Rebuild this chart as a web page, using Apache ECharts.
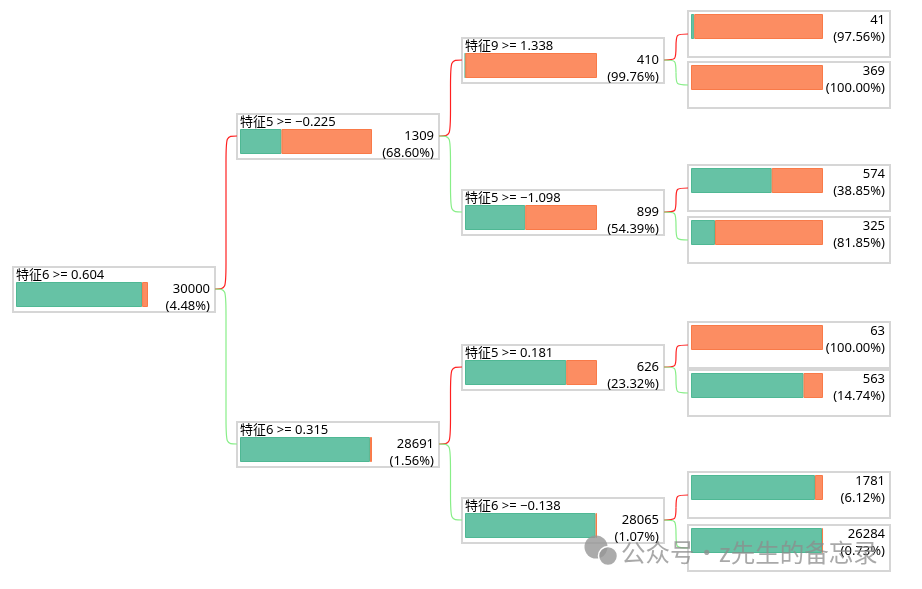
<!DOCTYPE html>
<html>
<head>
<meta charset="utf-8">
<script src="https://cdn.jsdelivr.net/npm/echarts@6/dist/echarts.min.js"></script>
<style>html,body{margin:0;padding:0;background:#fff}#c{width:922px;height:589px}</style>
</head>
<body>
<div id="c"></div>
<script>
// ---- data ----
const splitLabels = ['特征6 >= 0.604', '特征5 >= \u22120.225', '特征6 >= 0.315', '特征9 >= 1.338', '特征5 >= \u22121.098', '特征5 >= 0.181', '特征6 >= \u22120.138', '', '', '', '', '', '', '', ''];
const sampleCounts = [30000, 1309, 28691, 410, 899, 626, 28065, 41, 369, 574, 325, 63, 563, 1781, 26284];
const positiveRate = [4.48, 68.60, 1.56, 99.76, 54.39, 23.32, 1.07, 97.56, 100.00, 38.85, 81.85, 100.00, 14.74, 6.12, 0.73];
const parentOf = [-1, 0, 0, 1, 1, 2, 2, 3, 3, 4, 4, 5, 5, 6, 6];
const branchSide = [null, 'yes', 'no', 'yes', 'no', 'yes', 'no', 'yes', 'no', 'yes', 'no', 'yes', 'no', 'yes', 'no'];

// ---- layout (positions only) ----
const depthOf = [0, 1, 1, 2, 2, 2, 2, 3, 3, 3, 3, 3, 3, 3, 3];
const colX = [13, 237, 462, 688];
const boxTop = [267, 114, 422, 38, 190, 345, 498, 11, 62, 165, 217, 322, 370, 472, 525];
const BOX_W = 202, BOX_H_INNER = 45, BOX_H_LEAF = 46, BAR_W = 132, BAR_H = 25;
const GREEN = '#66c2a5', ORANGE = '#fc8d62';
const FONT = '"Segoe UI","Noto Sans","Noto Sans CJK SC",sans-serif';

const isLeaf = i => splitLabels[i] === '';
const boxH = i => isLeaf(i) ? BOX_H_LEAF : BOX_H_INNER;
const anchorY = i => boxTop[i] + (isLeaf(i) ? 23 : 22);

const grids = [], xAxes = [], yAxes = [], series = [], graphics = [];

// connectors: smooth bend out, vertical run, smooth bend in
for (let i = 0; i < sampleCounts.length; i++) {
  const p = parentOf[i];
  if (p < 0) continue;
  const x1 = colX[depthOf[p]] + BOX_W, y1 = anchorY(p);
  const x2 = colX[depthOf[i]], y2 = anchorY(i);
  const xm = (x1 + x2) / 2;
  const s = y2 < y1 ? -1 : 1;
  const r = Math.min(Math.abs(y2 - y1) / 2, 26);
  const st = { stroke: branchSide[i] === 'yes' ? '#ff2020' : '#88ee88', lineWidth: 1.2, fill: null };
  graphics.push({
    type: 'bezierCurve', z: 1, silent: true,
    shape: { x1: x1, y1: y1, cpx1: xm, cpy1: y1, cpx2: xm, cpy2: y1, x2: xm, y2: y1 + s * r },
    style: st
  });
  graphics.push({
    type: 'line', z: 1, silent: true,
    shape: { x1: xm, y1: y1 + s * r, x2: xm, y2: y2 - s * r },
    style: st
  });
  graphics.push({
    type: 'bezierCurve', z: 1, silent: true,
    shape: { x1: xm, y1: y2 - s * r, cpx1: xm, cpy1: y2, cpx2: xm, cpy2: y2, x2: x2, y2: y2 },
    style: st
  });
}

for (let i = 0; i < sampleCounts.length; i++) {
  const x = colX[depthOf[i]], top = boxTop[i], leaf = isLeaf(i);
  graphics.push({
    type: 'rect', z: 0, silent: true,
    shape: { x: x, y: top, width: BOX_W, height: boxH(i) },
    style: { fill: '#fff', stroke: '#d6d6d6', lineWidth: 2 }
  });
  const barTop = leaf ? top + 3 : top + 15;
  grids.push({ left: x + 3, top: barTop, width: BAR_W, height: BAR_H, containLabel: false });
  xAxes.push({ gridIndex: i, type: 'value', min: 0, max: 100, show: false });
  yAxes.push({ gridIndex: i, type: 'category', data: [''], show: false });
  series.push({
    type: 'bar', xAxisIndex: i, yAxisIndex: i, stack: 'n' + i, barWidth: '100%', silent: true,
    itemStyle: { color: GREEN, borderColor: '#4fb894', borderWidth: 100 - positiveRate[i] > 0 ? 1 : 0 },
    data: [+(100 - positiveRate[i]).toFixed(2)], z: 3
  });
  series.push({
    type: 'bar', xAxisIndex: i, yAxisIndex: i, stack: 'n' + i, barWidth: '100%', silent: true,
    itemStyle: { color: ORANGE, borderColor: '#f97a48', borderWidth: 1 },
    data: [positiveRate[i]], z: 3
  });
  if (!leaf) {
    graphics.push({
      type: 'text', z: 10, silent: true,
      style: { text: splitLabels[i], x: x + 3, y: top + 8, fill: '#000', font: '13px ' + FONT, textVerticalAlign: 'middle', textAlign: 'left' }
    });
  }
  const nY = leaf ? top + 9 : top + 22;
  graphics.push({
    type: 'text', z: 10, silent: true,
    style: { text: String(sampleCounts[i]), x: x + BOX_W - 5, y: nY, fill: '#000', font: '13px ' + FONT, textVerticalAlign: 'middle', textAlign: 'right' }
  });
  graphics.push({
    type: 'text', z: 10, silent: true,
    style: { text: '(' + positiveRate[i].toFixed(2) + '%)', x: x + BOX_W - 5, y: nY + 17, fill: '#000', font: '13px ' + FONT, textVerticalAlign: 'middle', textAlign: 'right' }
  });
}

// watermark
graphics.push({ type: 'circle', z: 20, silent: true, shape: { cx: 596, cy: 547, r: 11.5 }, style: { fill: 'rgba(150,150,150,0.8)' } });
graphics.push({ type: 'circle', z: 21, silent: true, shape: { cx: 608, cy: 556, r: 9.5 }, style: { fill: 'rgba(150,150,150,0.8)', stroke: '#fff', lineWidth: 1.5 } });
graphics.push({
  type: 'text', z: 20, silent: true,
  style: { text: '公众号・z先生的备忘录', x: 621, y: 553, fill: 'rgba(140,140,140,0.75)', font: '24.5px "Noto Sans CJK SC",sans-serif', textVerticalAlign: 'middle', textAlign: 'left' }
});

const chart = echarts.init(document.getElementById('c'), null, { renderer: 'canvas' });
chart.setOption({
  animation: false,
  grid: grids, xAxis: xAxes, yAxis: yAxes, series: series,
  graphic: { elements: graphics }
});
</script>
</body>
</html>
